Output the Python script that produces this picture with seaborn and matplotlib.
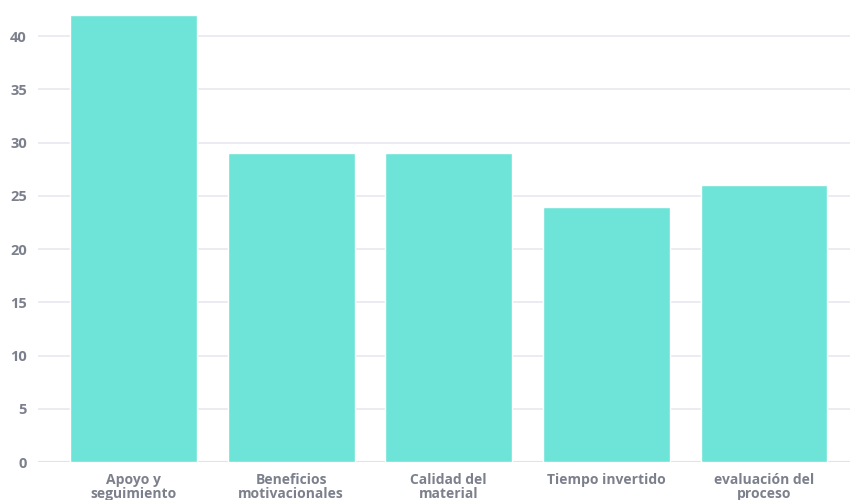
import matplotlib
matplotlib.use('Agg')
import seaborn as sns
import matplotlib.pyplot as plt
import pandas as pd

# datos del gráfico
categorias = ['Apoyo y\nseguimiento', 'Beneficios\nmotivacionales', 'Calidad del\nmaterial',
              'Tiempo invertido', 'evaluación del\nproceso']
valores = [42, 29, 29, 24, 26]
y_ticks = [0, 5, 10, 15, 20, 25, 30, 35, 40]

df = pd.DataFrame({'categoria': categorias, 'valor': valores})

sns.set_style('white')
plt.rcParams['font.family'] = ['Open Sans', 'DejaVu Sans']

fig = plt.figure(figsize=(8.5, 5), dpi=100)
ax = fig.add_axes([38 / 850, 38 / 500, 812 / 850, 462 / 500])

sns.barplot(data=df, x='categoria', y='valor', color='#6ee4d8', saturation=1,
            width=0.805, ax=ax, zorder=3)

ax.set_ylim(0, 43.4)
ax.set_xlim(-0.606, 4.546)
ax.set_yticks(y_ticks)
ax.yaxis.grid(True, color='#e6e9f0', linewidth=1.2, zorder=0)
ax.set_axisbelow(True)
ax.axhline(0, color='#dfe3ec', linewidth=1.5, zorder=2)
sns.despine(ax=ax, left=True, bottom=True, top=True, right=True)

ax.set_xlabel('')
ax.set_ylabel('')
ax.tick_params(axis='both', length=0, labelsize=10, labelcolor='#7c808c')
ax.tick_params(axis='y', pad=8, labelsize=10.5)
ax.tick_params(axis='x', pad=8)
for lbl in ax.get_xticklabels() + ax.get_yticklabels():
    lbl.set_fontweight('bold')
for lbl in ax.get_xticklabels():
    lbl.set_linespacing(0.95)

fig.savefig('out.png', dpi=100)
plt.close(fig)
